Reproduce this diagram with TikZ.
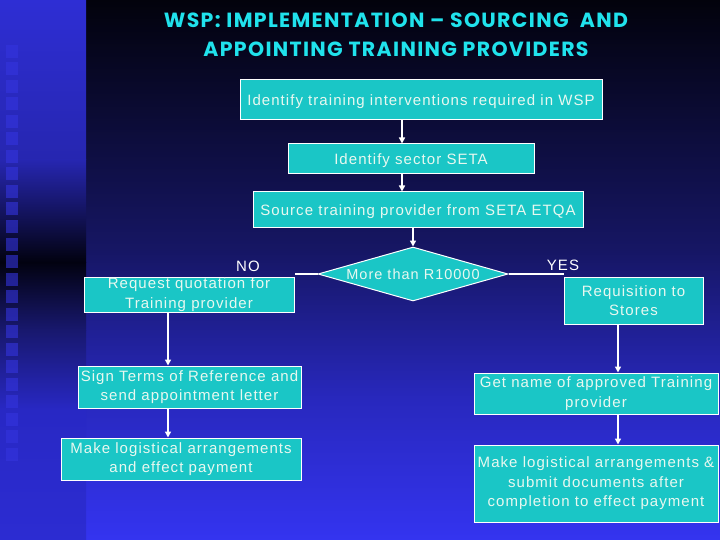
\documentclass[tikz,border=0pt]{standalone}
\usepackage{fontspec}
\setmainfont{Liberation Sans}[LetterSpace=7]
\newfontfamily\titlefont{Poppins}[LetterSpace=6.5]
\usetikzlibrary{arrows.meta,shapes.geometric}
\definecolor{bgA}{RGB}{2,2,12}
\definecolor{bgB}{RGB}{22,22,100}
\definecolor{bgC}{RGB}{40,40,190}
\definecolor{bgD}{RGB}{52,52,240}
\definecolor{stA}{RGB}{46,46,212}
\definecolor{stB}{RGB}{38,38,176}
\definecolor{stC}{RGB}{2,2,16}
\definecolor{stD}{RGB}{24,24,110}
\definecolor{stE}{RGB}{40,40,196}
\definecolor{stF}{RGB}{44,44,210}
\definecolor{sqc}{RGB}{52,52,222}
\definecolor{boxc}{RGB}{26,198,198}
\definecolor{txtc}{RGB}{232,248,240}
\definecolor{titc}{RGB}{32,226,236}
\tikzset{
  stepbox/.style={draw=white, line width=1pt, fill=boxc, text=txtc, inner sep=0pt,
    align=center, font=\fontsize{15}{19.5}\selectfont,
    execute at begin node={\rule{0pt}{15pt}}},
  decbox/.style={draw=white, line width=1pt, fill=boxc, text=txtc, inner sep=0pt,
    shape=diamond, shape aspect=3.5, minimum width=190pt, minimum height=54pt,
    font=\fontsize{14.5}{17}\selectfont},
  lbl/.style={text=white, inner sep=0pt, font=\fontsize{15}{18}\selectfont},
  ttl/.style={text=titc, inner sep=0pt, anchor=base, font=\titlefont\bfseries\fontsize{20.5}{24}\selectfont},
  conn/.style={draw=white, line width=1.5pt},
  arr/.style={conn, -{Triangle[length=6pt,width=6pt]}},
}
\begin{document}
\begin{tikzpicture}[x=1pt,y=-1pt]
\useasboundingbox (0,0) rectangle (720,540);
% background main
\shade[top color=bgA, bottom color=bgB] (86,0) rectangle (720,250);
\shade[top color=bgB, bottom color=bgC] (86,250) rectangle (720,400);
\shade[top color=bgC, bottom color=bgD] (86,400) rectangle (720,540);
% left strip
\shade[top color=stA, bottom color=stB] (0,0) rectangle (86,160);
\shade[top color=stB, bottom color=stC] (0,160) rectangle (86,262);
\shade[top color=stC, bottom color=stD] (0,262) rectangle (86,330);
\shade[top color=stD, bottom color=stE] (0,330) rectangle (86,410);
\shade[top color=stE, bottom color=stF] (0,410) rectangle (86,540);
\foreach \i in {0,...,23} \fill[sqc, opacity=0.6] (6,45+17.5*\i) rectangle ++(12,13);
% title
\node[ttl] (t1) at (396,28) {WSP: IMPLEMENTATION – SOURCING\ \ AND};
\node[ttl] (t2) at (396,57) {APPOINTING TRAINING PROVIDERS};
% boxes
\node[stepbox, minimum width=362pt, minimum height=40pt] (b1) at (421,100) {Identify training interventions required in WSP};
\node[stepbox, minimum width=246pt, minimum height=30pt] (b2) at (411,159) {Identify sector SETA};
\node[stepbox, minimum width=330pt, minimum height=36pt] (b3) at (418,210) {Source training provider from SETA ETQA};
\node[decbox] (dia) at (413,274) {More than R10000};
\node[stepbox, minimum width=210pt, minimum height=35pt] (req) at (189,294.5) {Request quotation for\\Training provider};
\node[stepbox, minimum width=223pt, minimum height=42pt] (sign) at (189.5,387) {Sign Terms of Reference and\\send appointment letter};
\node[stepbox, minimum width=240pt, minimum height=42pt] (mkl) at (181,459) {Make logistical arrangements\\and effect payment};
\node[stepbox, minimum width=139pt, minimum height=47pt] (rs) at (633.5,300.5) {Requisition to\\Stores};
\node[stepbox, minimum width=244pt, minimum height=41pt] (gn) at (596,393.5) {Get name of approved Training\\provider};
\node[stepbox, minimum width=244pt, minimum height=77pt] (mkr) at (596,483.5) {Make logistical arrangements \&\\submit documents after\\completion to effect payment};
\node[lbl] (no) at (248,266) {NO};
\node[lbl] (yes) at (563,265) {YES};
% connectors
\coordinate (xa) at (402,0);
\coordinate (xl) at (168,0);
\coordinate (xr) at (618,0);
\draw[arr] (b1.south -| xa) -- (b2.north -| xa);
\draw[arr] (b2.south -| xa) -- (b3.north -| xa);
\draw[arr] (b3.south -| dia.north) -- (dia.north);
\draw[conn] (dia.west) -- (dia.west -| req.east);
\draw[conn] (dia.east) -- (dia.east -| rs.west);
\draw[arr] (req.south -| xl) -- (sign.north -| xl);
\draw[arr] (sign.south -| xl) -- (mkl.north -| xl);
\draw[arr] (rs.south -| xr) -- (gn.north -| xr);
\draw[arr] (gn.south -| xr) -- (mkr.north -| xr);
\end{tikzpicture}
\end{document}
